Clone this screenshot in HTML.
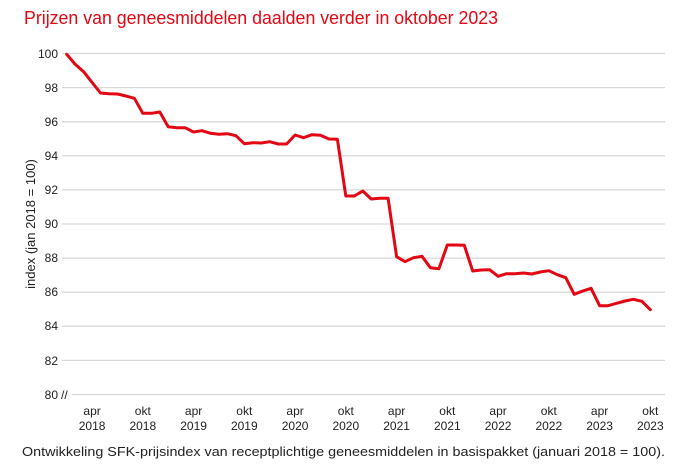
<!DOCTYPE html>
<html><head><meta charset="utf-8"><style>
html,body{margin:0;padding:0;background:#fff;}
svg{display:block;}
text{font-family:"Liberation Sans",sans-serif;}
</style></head><body>
<svg width="679" height="468" viewBox="0 0 679 468" xmlns="http://www.w3.org/2000/svg">
<text x="24" y="24" font-size="18" fill="#e30613" textLength="474" lengthAdjust="spacingAndGlyphs">Prijzen van geneesmiddelen daalden verder in oktober 2023</text>
<g stroke="#d9d9d9" stroke-width="1.3">
<line x1="62" y1="53.5" x2="665" y2="53.5"/>
<line x1="62" y1="87.6" x2="665" y2="87.6"/>
<line x1="62" y1="121.7" x2="665" y2="121.7"/>
<line x1="62" y1="155.8" x2="665" y2="155.8"/>
<line x1="62" y1="189.9" x2="665" y2="189.9"/>
<line x1="62" y1="224" x2="665" y2="224"/>
<line x1="62" y1="258.1" x2="665" y2="258.1"/>
<line x1="62" y1="292.2" x2="665" y2="292.2"/>
<line x1="62" y1="326.3" x2="665" y2="326.3"/>
<line x1="62" y1="360.4" x2="665" y2="360.4"/>
<line x1="72" y1="394.5" x2="665" y2="394.5"/>
</g>
<g font-size="12" fill="#222" text-anchor="end">
<text x="58" y="58">100</text>
<text x="58" y="92">98</text>
<text x="58" y="126">96</text>
<text x="58" y="160">94</text>
<text x="58" y="194">92</text>
<text x="58" y="228">90</text>
<text x="58" y="262">88</text>
<text x="58" y="296">86</text>
<text x="58" y="330">84</text>
<text x="58" y="365">82</text>
<text x="58" y="399">80</text>
</g>
<text x="61" y="399" font-size="12" fill="#222">//</text>
<text transform="translate(35,224) rotate(-90)" font-size="13" fill="#222" text-anchor="middle">index (jan 2018 = 100)</text>
<g font-size="12" fill="#222" text-anchor="middle">
<text x="92.1" y="415">apr</text><text x="92.1" y="430">2018</text>
<text x="142.8" y="415">okt</text><text x="142.8" y="430">2018</text>
<text x="193.6" y="415">apr</text><text x="193.6" y="430">2019</text>
<text x="244.3" y="415">okt</text><text x="244.3" y="430">2019</text>
<text x="295.1" y="415">apr</text><text x="295.1" y="430">2020</text>
<text x="345.8" y="415">okt</text><text x="345.8" y="430">2020</text>
<text x="396.6" y="415">apr</text><text x="396.6" y="430">2021</text>
<text x="447.3" y="415">okt</text><text x="447.3" y="430">2021</text>
<text x="498.1" y="415">apr</text><text x="498.1" y="430">2022</text>
<text x="548.8" y="415">okt</text><text x="548.8" y="430">2022</text>
<text x="599.6" y="415">apr</text><text x="599.6" y="430">2023</text>
<text x="650.3" y="415">okt</text><text x="650.3" y="430">2023</text>
</g>
<polyline fill="none" stroke="#e30613" stroke-width="3" stroke-linejoin="round" stroke-linecap="round" points="
66.7,54.3 75.2,64.3 83.6,71.7 92.1,82.5 100.5,93 109,93.7 117.5,94 125.9,96 134.4,98.3 142.8,113.3 151.3,113.3 159.8,112 168.2,126.7 176.7,127.7 185.1,127.7 193.6,132 202,130.7 210.5,133.3 219,134.3 227.4,133.7 235.9,135.7 244.3,143.7 252.8,142.7 261.3,143 269.7,141.7 278.2,144 286.6,144 295.1,135 303.6,137.7 312,134.7 320.5,135.3 328.9,139 337.4,139.3 345.8,196 354.3,196 362.8,191 371.2,199 379.7,198.3 388.1,198.3 396.6,256.7 405,261.7 413.5,257.7 422,256.3 430.4,267.7 438.9,268.7 447.3,245 455.8,245 464.3,245.3 472.7,271 481.2,270 489.6,269.7 498.1,276.3 506.5,273.7 515,273.7 523.5,273 531.9,274 540.4,272 548.8,270.7 557.3,274.7 565.8,277.7 574.2,294.3 582.7,291 591.1,288.3 599.6,305.7 608,305.7 616.5,303.3 625,301 633.4,299.3 641.9,301.3 650.3,309.7"/>
<text x="22" y="456" font-size="13" fill="#222" textLength="643" lengthAdjust="spacingAndGlyphs">Ontwikkeling SFK-prijsindex van receptplichtige geneesmiddelen in basispakket (januari 2018 = 100).</text>
</svg>
</body></html>
